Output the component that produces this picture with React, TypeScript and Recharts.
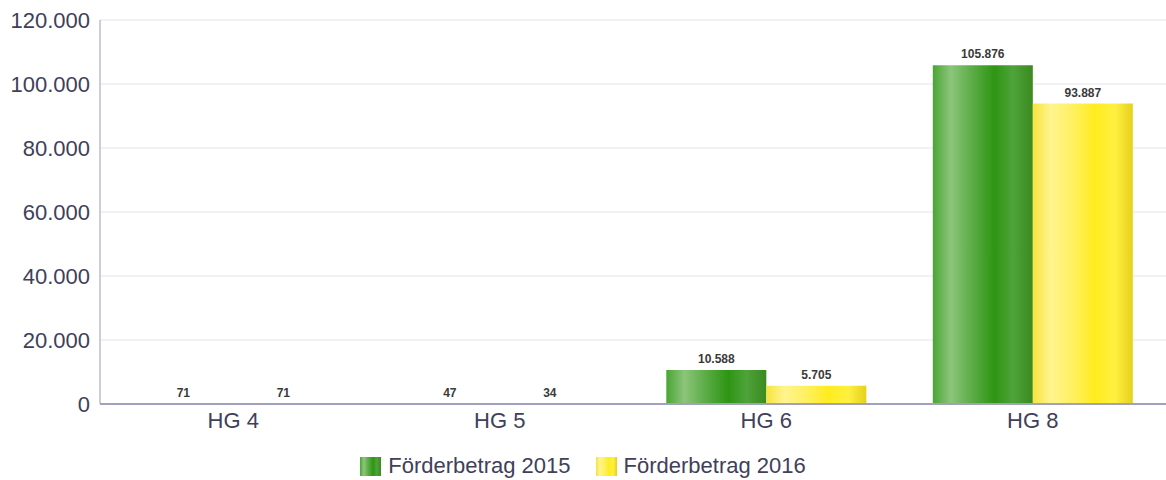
import React from "react";
import {
  BarChart,
  Bar,
  XAxis,
  YAxis,
  CartesianGrid,
  Legend,
  LabelList,
} from "recharts";

// Förderbeträge je Handelsgruppe, 2015 vs. 2016

const categories = ["HG 4", "HG 5", "HG 6", "HG 8"];
const values2015 = [71, 47, 10588, 105876];
const values2016 = [71, 34, 5705, 93887];
const yTicks = [0, 20000, 40000, 60000, 80000, 100000, 120000];

const data = categories.map((name, i) => ({
  name,
  y2015: values2015[i],
  y2016: values2016[i],
}));

const fmt = (v: number) =>
  String(v).replace(/\B(?=(\d{3})+(?!\d))/g, ".");

const FONT = "'Liberation Sans', Arial, sans-serif";
const TEXT = "#40405a";

const greenCss =
  "linear-gradient(to right, #4aa535 0%, #8cc57a 18%, #5aab45 40%, #2e9512 62%, #4ea33a 80%, #3a8a1f 100%)";
const yellowCss =
  "linear-gradient(to right, #f6e43c 0%, #fff48f 18%, #fff060 40%, #ffec1e 62%, #fff040 82%, #e6d01c 100%)";

const LegendContent = () => (
  <div
    style={{
      display: "flex",
      justifyContent: "center",
      alignItems: "center",
      paddingTop: 14,
      fontFamily: FONT,
      fontSize: 22,
      color: TEXT,
    }}
  >
    {[
      { label: "Förderbetrag 2015", bg: greenCss },
      { label: "Förderbetrag 2016", bg: yellowCss },
    ].map((it, i) => (
      <div
        key={it.label}
        style={{ display: "flex", alignItems: "center", marginLeft: i ? 25 : 0 }}
      >
        <span
          style={{
            display: "inline-block",
            width: 21,
            height: 19,
            background: it.bg,
            marginRight: 7,
          }}
        />
        <span style={{ lineHeight: "24px" }}>{it.label}</span>
      </div>
    ))}
  </div>
);

const App = () => {
  return (
    <div style={{ position: "absolute", left: 0, top: 0 }}>
      <BarChart
        width={1166}
        height={480}
        data={data}
        margin={{ top: 20, right: 0, bottom: 0, left: 0 }}
        barCategoryGap="12.5%"
        barGap={0}
        style={{ fontFamily: FONT }}
      >
        <defs>
          <linearGradient id="gGreen" x1="0" y1="0" x2="1" y2="0">
            <stop offset="0%" stopColor="#4aa535" />
            <stop offset="18%" stopColor="#8cc57a" />
            <stop offset="40%" stopColor="#5aab45" />
            <stop offset="62%" stopColor="#2e9512" />
            <stop offset="80%" stopColor="#4ea33a" />
            <stop offset="100%" stopColor="#3a8a1f" />
          </linearGradient>
          <linearGradient id="gYellow" x1="0" y1="0" x2="1" y2="0">
            <stop offset="0%" stopColor="#f6e43c" />
            <stop offset="18%" stopColor="#fff48f" />
            <stop offset="40%" stopColor="#fff060" />
            <stop offset="62%" stopColor="#ffec1e" />
            <stop offset="82%" stopColor="#fff040" />
            <stop offset="100%" stopColor="#e6d01c" />
          </linearGradient>
        </defs>
        <CartesianGrid vertical={false} stroke="#e4e4ec" />
        <XAxis
          dataKey="name"
          tickLine={false}
          axisLine={{ stroke: "#a0a0c0", strokeWidth: 2 }}
          tick={{ fill: TEXT, fontSize: 22 }}
          height={36}
        />
        <YAxis
          width={100}
          domain={[0, 120000]}
          ticks={yTicks}
          tickFormatter={fmt}
          tickLine={false}
          tickSize={6}
          tickMargin={4}
          axisLine={{ stroke: "#9a9ab8" }}
          tick={{ fill: TEXT, fontSize: 22 }}
        />
        <Legend
          verticalAlign="bottom"
          height={40}
          content={<LegendContent />}
          wrapperStyle={{ left: 0, width: 1166 }}
        />
        <Bar dataKey="y2015" fill="url(#gGreen)" isAnimationActive={false}>
          <LabelList
            dataKey="y2015"
            position="top"
            offset={7}
            formatter={(v: any) => fmt(v)}
            style={{ fill: "#3a3a3a", fontSize: 12, fontWeight: "bold" }}
          />
        </Bar>
        <Bar dataKey="y2016" fill="url(#gYellow)" isAnimationActive={false}>
          <LabelList
            dataKey="y2016"
            position="top"
            offset={7}
            formatter={(v: any) => fmt(v)}
            style={{ fill: "#3a3a3a", fontSize: 12, fontWeight: "bold" }}
          />
        </Bar>
      </BarChart>
    </div>
  );
};

export default App;
